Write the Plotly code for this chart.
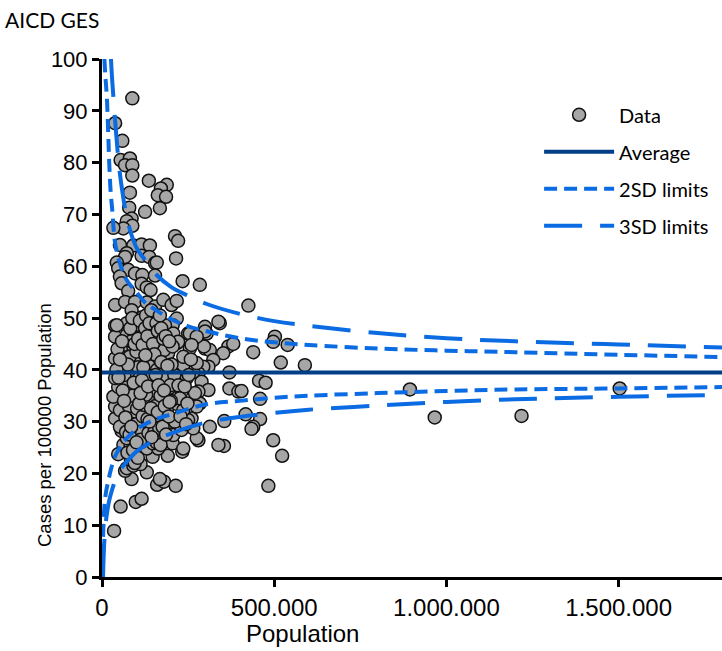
import plotly.graph_objects as go

# ---- Data points (population in thousands, rate per 100000) ----
data_pop_k = [
    88, 38, 59, 54, 81, 67, 88, 88, 136, 188, 171, 162, 186, 81, 168, 125, 79, 86, 72, 88,
    62, 33, 212, 221, 52, 91, 115, 139, 72, 67, 115, 137, 215, 154, 159, 43, 47, 76, 96, 117,
    154, 52, 234, 284, 57, 115, 76, 130, 141, 38, 67, 96, 130, 154, 178, 202, 217, 86, 115, 38,
    72, 96, 183, 217, 205,
    425, 299, 342, 280, 304, 299, 313, 367, 381, 352, 323, 309, 294, 439, 502, 497, 539, 519, 589, 370,
    280, 289, 309, 280, 370, 396, 405, 456, 475, 459, 284, 417, 459, 355, 313, 439, 434, 280, 354, 497,
    523, 483, 299, 296, 338, 338, 250, 255, 217,
    894, 966, 1218, 1503,
    35, 54, 98, 115, 160, 180, 168, 214, 86, 130, 67, 72, 91, 112, 47, 147, 191, 233, 84, 107,
    130, 62, 83, 163, 205, 236, 275, 265, 260, 217, 188, 137, 96, 115, 72, 57, 91, 120, 149, 173,
    207, 231, 38, 76, 110, 159, 52, 38, 67, 96, 139, 188, 212, 250, 33, 72, 110, 139, 168, 217,
    236, 47, 86, 120, 154, 188, 231, 270, 38, 72, 101, 139, 173, 212, 246, 76, 130, 178, 226, 265,
    38, 62, 96, 130, 163, 188, 217, 236, 38, 72, 101, 120, 149, 183, 207, 221, 255, 275, 260, 43,
    96, 62, 91, 173, 192, 236, 275, 275, 188, 91, 52, 226,
    45, 55, 65, 80, 85, 100, 105, 110, 115, 125, 135, 140, 145, 150, 155, 160, 165, 170, 175, 180,
    185, 195, 200, 205, 210, 78, 88, 92, 98, 102, 108, 112, 118, 122, 128, 132, 135, 142, 148, 152,
    158, 162, 166, 170, 176, 182, 186, 194, 198, 202, 75, 82, 88, 95, 105, 110, 118, 125, 128, 132,
    138, 143, 148, 152, 158, 162, 168, 172, 178, 185, 195, 42, 48, 52, 58, 60, 64, 68, 70, 74,
    80, 85, 90, 95, 100, 104, 108, 112, 116, 120, 126, 134, 138, 144, 156, 164, 172, 180, 190, 196,
    222, 228, 240, 244, 248, 252, 258,
]
data_rate = [
    92.4, 87.6, 84.2, 80.5, 80.8, 79.5, 79.5, 77.5, 76.5, 75.7, 75.0, 73.7, 73.4, 74.2, 71.2, 70.5, 71.3, 69.2, 68.7, 67.8,
    67.3, 67.4, 65.8, 64.9, 64.1, 64.0, 64.2, 64.0, 62.5, 61.8, 62.0, 61.8, 61.5, 60.6, 60.7, 60.7, 59.6, 59.3, 58.6, 58.3,
    58.2, 58.0, 57.1, 56.4, 56.7, 56.6, 55.2, 55.9, 55.4, 52.5, 53.1, 53.1, 53.0, 52.2, 53.5, 52.5, 53.3, 51.5, 50.1, 48.5,
    49.0, 48.6, 48.5, 49.9, 48.6,
    52.4, 48.3, 49.0, 46.4, 47.0, 44.1, 43.8, 44.5, 45.0, 43.2, 41.9, 40.6, 40.6, 43.4, 46.4, 45.4, 44.8, 41.4, 40.9, 39.5,
    39.3, 37.7, 36.1, 35.8, 36.4, 35.8, 35.9, 37.9, 37.5, 34.4, 33.5, 31.4, 30.5, 30.1, 29.0, 29.0, 28.6, 26.4, 25.3, 26.4,
    23.4, 17.6, 47.4, 44.5, 49.3, 25.5, 47.0, 44.1, 45.1,
    36.2, 30.8, 31.1, 36.4,
    8.9, 13.6, 14.5, 15.1, 17.8, 18.4, 18.9, 17.6, 18.9, 20.2, 20.5, 21.0, 21.5, 21.8, 23.7, 23.2, 23.4, 24.2, 22.6, 24.8,
    24.8, 25.5, 25.3, 24.8, 25.8, 24.8, 26.8, 28.7, 30.6, 29.7, 29.7, 27.2, 26.8, 26.1, 26.8, 28.2, 28.7, 28.1, 29.0, 27.1,
    27.4, 28.4, 30.6, 30.3, 30.6, 30.0, 29.0, 32.9, 32.6, 31.9, 31.3, 30.9, 30.0, 30.3, 34.8, 34.5, 33.8, 34.2, 33.8, 33.4,
    32.2, 36.7, 36.4, 36.1, 36.7, 35.8, 35.8, 35.5, 38.4, 38.0, 38.4, 38.0, 37.7, 38.4, 38.4, 39.6, 39.6, 39.3, 40.6, 39.6,
    42.2, 43.2, 41.9, 42.2, 42.9, 42.5, 40.6, 40.9, 46.4, 46.7, 47.0, 47.0, 47.4, 48.6, 47.0, 45.4, 47.0, 46.4, 44.8, 48.6,
    48.6, 44.8, 44.5, 44.5, 43.2, 42.5, 41.3, 32.9, 32.2, 33.5, 32.2, 34.5,
    44.0, 41.0, 39.0, 42.5, 45.5, 43.5, 40.5, 37.0, 35.0, 37.5, 40.8, 44.0, 38.5, 36.0, 33.0, 40.0, 46.0, 35.0, 31.5, 43.8,
    38.7, 36.5, 34.0, 44.5, 39.0, 33.0, 35.0, 37.5, 29.5, 32.5, 28.0, 26.5, 31.0, 33.2, 35.2, 30.5, 27.8, 32.6, 25.8, 28.0,
    26.0, 31.8, 28.8, 25.5, 29.0, 33.0, 27.5, 31.0, 37.0, 41.0, 41.0, 48.0, 50.0, 45.0, 46.0, 49.5, 44.8, 48.0, 50.5, 46.5,
    49.0, 51.5, 45.0, 43.0, 49.0, 47.5, 50.5, 48.0, 46.0, 46.5, 45.5, 40.0, 38.5, 42.0, 45.5, 36.0, 34.0, 30.8, 28.0, 24.0,
    27.5, 29.0, 24.5, 22.0, 26.0, 23.0, 33.5, 35.5, 38.0, 40.5, 42.8, 36.8, 30.0, 27.0, 39.0, 37.0, 41.5, 36.0, 40.8, 33.8,
    37.0, 31.0, 36.8, 29.5, 33.5, 39.0, 42.0,
]

# ---- Average line ----
avg_pop = [0, 1850000]
avg_rate = [39.5, 39.5]

# ---- Control limits ----
u2_pop_k = [7, 10, 14, 18, 21, 25, 30, 38, 50, 60, 75, 100, 125, 150, 200, 250, 300, 400, 500, 600, 800, 1000, 1200, 1500, 1850]
u2_rate = [100, 96.5, 92.8, 85.7, 80.0, 74.5, 70.7, 64.5, 61.0, 59.0, 57.0, 55.0, 53.0, 51.8, 49.8, 48.4, 47.5, 46.1, 45.3, 44.8, 44.1, 43.7, 43.4, 42.9, 42.4]

l2_pop_k = [1, 4, 8, 12, 18, 25, 35, 45, 60, 75, 100, 150, 200, 300, 400, 500, 600, 800, 1000, 1200, 1500, 1850]
l2_rate = [0, 9.5, 14.5, 16.5, 18.5, 20.5, 22.8, 24.2, 25.8, 27.0, 28.5, 30.3, 31.4, 33.3, 34.0, 34.6, 35.0, 35.5, 35.9, 36.2, 36.4, 36.7]

u3_pop_k = [26, 30, 35, 40, 50, 60, 75, 100, 125, 150, 200, 250, 300, 400, 500, 600, 800, 1000, 1200, 1500, 1850]
u3_rate = [100, 95.5, 91.0, 86.5, 79.0, 74.0, 68.5, 63.6, 61.2, 58.9, 56.0, 54.3, 52.8, 50.8, 49.4, 48.5, 47.1, 46.1, 45.5, 44.9, 44.2]

l3_pop_k = [3, 6, 10, 15, 20, 30, 45, 60, 75, 100, 150, 200, 300, 400, 500, 600, 800, 1000, 1200, 1500, 1850]
l3_rate = [0, 6.0, 10.0, 12.5, 14.5, 17.0, 19.8, 21.3, 22.5, 24.2, 26.3, 27.7, 29.8, 30.9, 31.7, 32.3, 33.1, 33.8, 34.3, 34.8, 35.2]

x_tickvals = [0, 500000, 1000000, 1500000]
y_tickvals = [0, 10, 20, 30, 40, 50, 60, 70, 80, 90, 100]

BLUE = "#0A6BE3"
NAVY = "#003F88"
AXFONT = "Liberation Sans, Arial, sans-serif"

def k(v):
    return [p * 1000 for p in v]

fig = go.Figure()

fig.add_trace(go.Scatter(
    x=k(data_pop_k), y=data_rate, mode="markers", name="Data", legendgroup="a",
    marker=dict(size=13, color="#A6A6A6", line=dict(color="#111111", width=1.5)),
))
fig.add_trace(go.Scatter(
    x=avg_pop, y=avg_rate, mode="lines", name="Average", legendgroup="b",
    line=dict(color=NAVY, width=4),
))
fig.add_trace(go.Scatter(
    x=k(u2_pop_k), y=u2_rate, mode="lines", name="2SD limits", legendgroup="c",
    line=dict(color=BLUE, width=4, dash="13px,7px", shape="spline"),
))
fig.add_trace(go.Scatter(
    x=k(l2_pop_k), y=l2_rate, mode="lines", name="2SD limits", legendgroup="c", showlegend=False,
    line=dict(color=BLUE, width=4, dash="13px,7px", shape="spline"),
))
fig.add_trace(go.Scatter(
    x=k(u3_pop_k), y=u3_rate, mode="lines", name="3SD limits", legendgroup="d",
    line=dict(color=BLUE, width=4, dash="38px,18px", shape="spline"),
))
fig.add_trace(go.Scatter(
    x=k(l3_pop_k), y=l3_rate, mode="lines", name="3SD limits", legendgroup="d", showlegend=False,
    line=dict(color=BLUE, width=4, dash="38px,18px", shape="spline"),
))

fig.update_layout(
    width=722, height=651,
    margin=dict(l=102, r=0, t=59, b=74, pad=0),
    paper_bgcolor="white", plot_bgcolor="white",
    separators=",.",
    title=dict(text="AICD GES", xref="container", yref="container", x=0.007, xanchor="left",
               y=1 - 21 / 651, yanchor="middle",
               font=dict(family="Lato, Open Sans, sans-serif", size=21, color="black")),
    legend=dict(x=0.705, y=0.93, xanchor="left", yanchor="top", bgcolor="rgba(0,0,0,0)",
                font=dict(family="Lato, Open Sans, sans-serif", size=20, color="black"),
                tracegroupgap=8, itemwidth=70, traceorder="grouped"),
    xaxis=dict(range=[0, 1800000], tickvals=x_tickvals, tickformat=",d",
               showline=True, linecolor="black", linewidth=3, mirror=False,
               ticks="outside", ticklen=7, tickwidth=3, tickcolor="black",
               showgrid=False, zeroline=False,
               tickfont=dict(family="Liberation Sans Narrow, Liberation Sans, Arial", size=24, color="black")),
    yaxis=dict(range=[0, 100], tickvals=y_tickvals,
               showline=True, linecolor="black", linewidth=3,
               ticks="outside", ticklen=7, tickwidth=3, tickcolor="black",
               showgrid=False, zeroline=False,
               tickfont=dict(family=AXFONT, size=22, color="black")),
    annotations=[
        dict(text="Population", xref="paper", yref="paper",
             x=(302 - 102) / 620, y=(577 - 633) / 518, xanchor="center", yanchor="middle",
             showarrow=False,
             font=dict(family="Liberation Sans Narrow, Liberation Sans, Arial", size=24, color="black")),
        dict(text="Cases per 100000 Population", xref="paper", yref="paper",
             x=(45 - 102) / 620, y=(577 - 425) / 518, xanchor="center", yanchor="middle",
             textangle=-90, showarrow=False,
             font=dict(family=AXFONT, size=18.5, color="black")),
    ],
)

fig.write_html("out.html")
